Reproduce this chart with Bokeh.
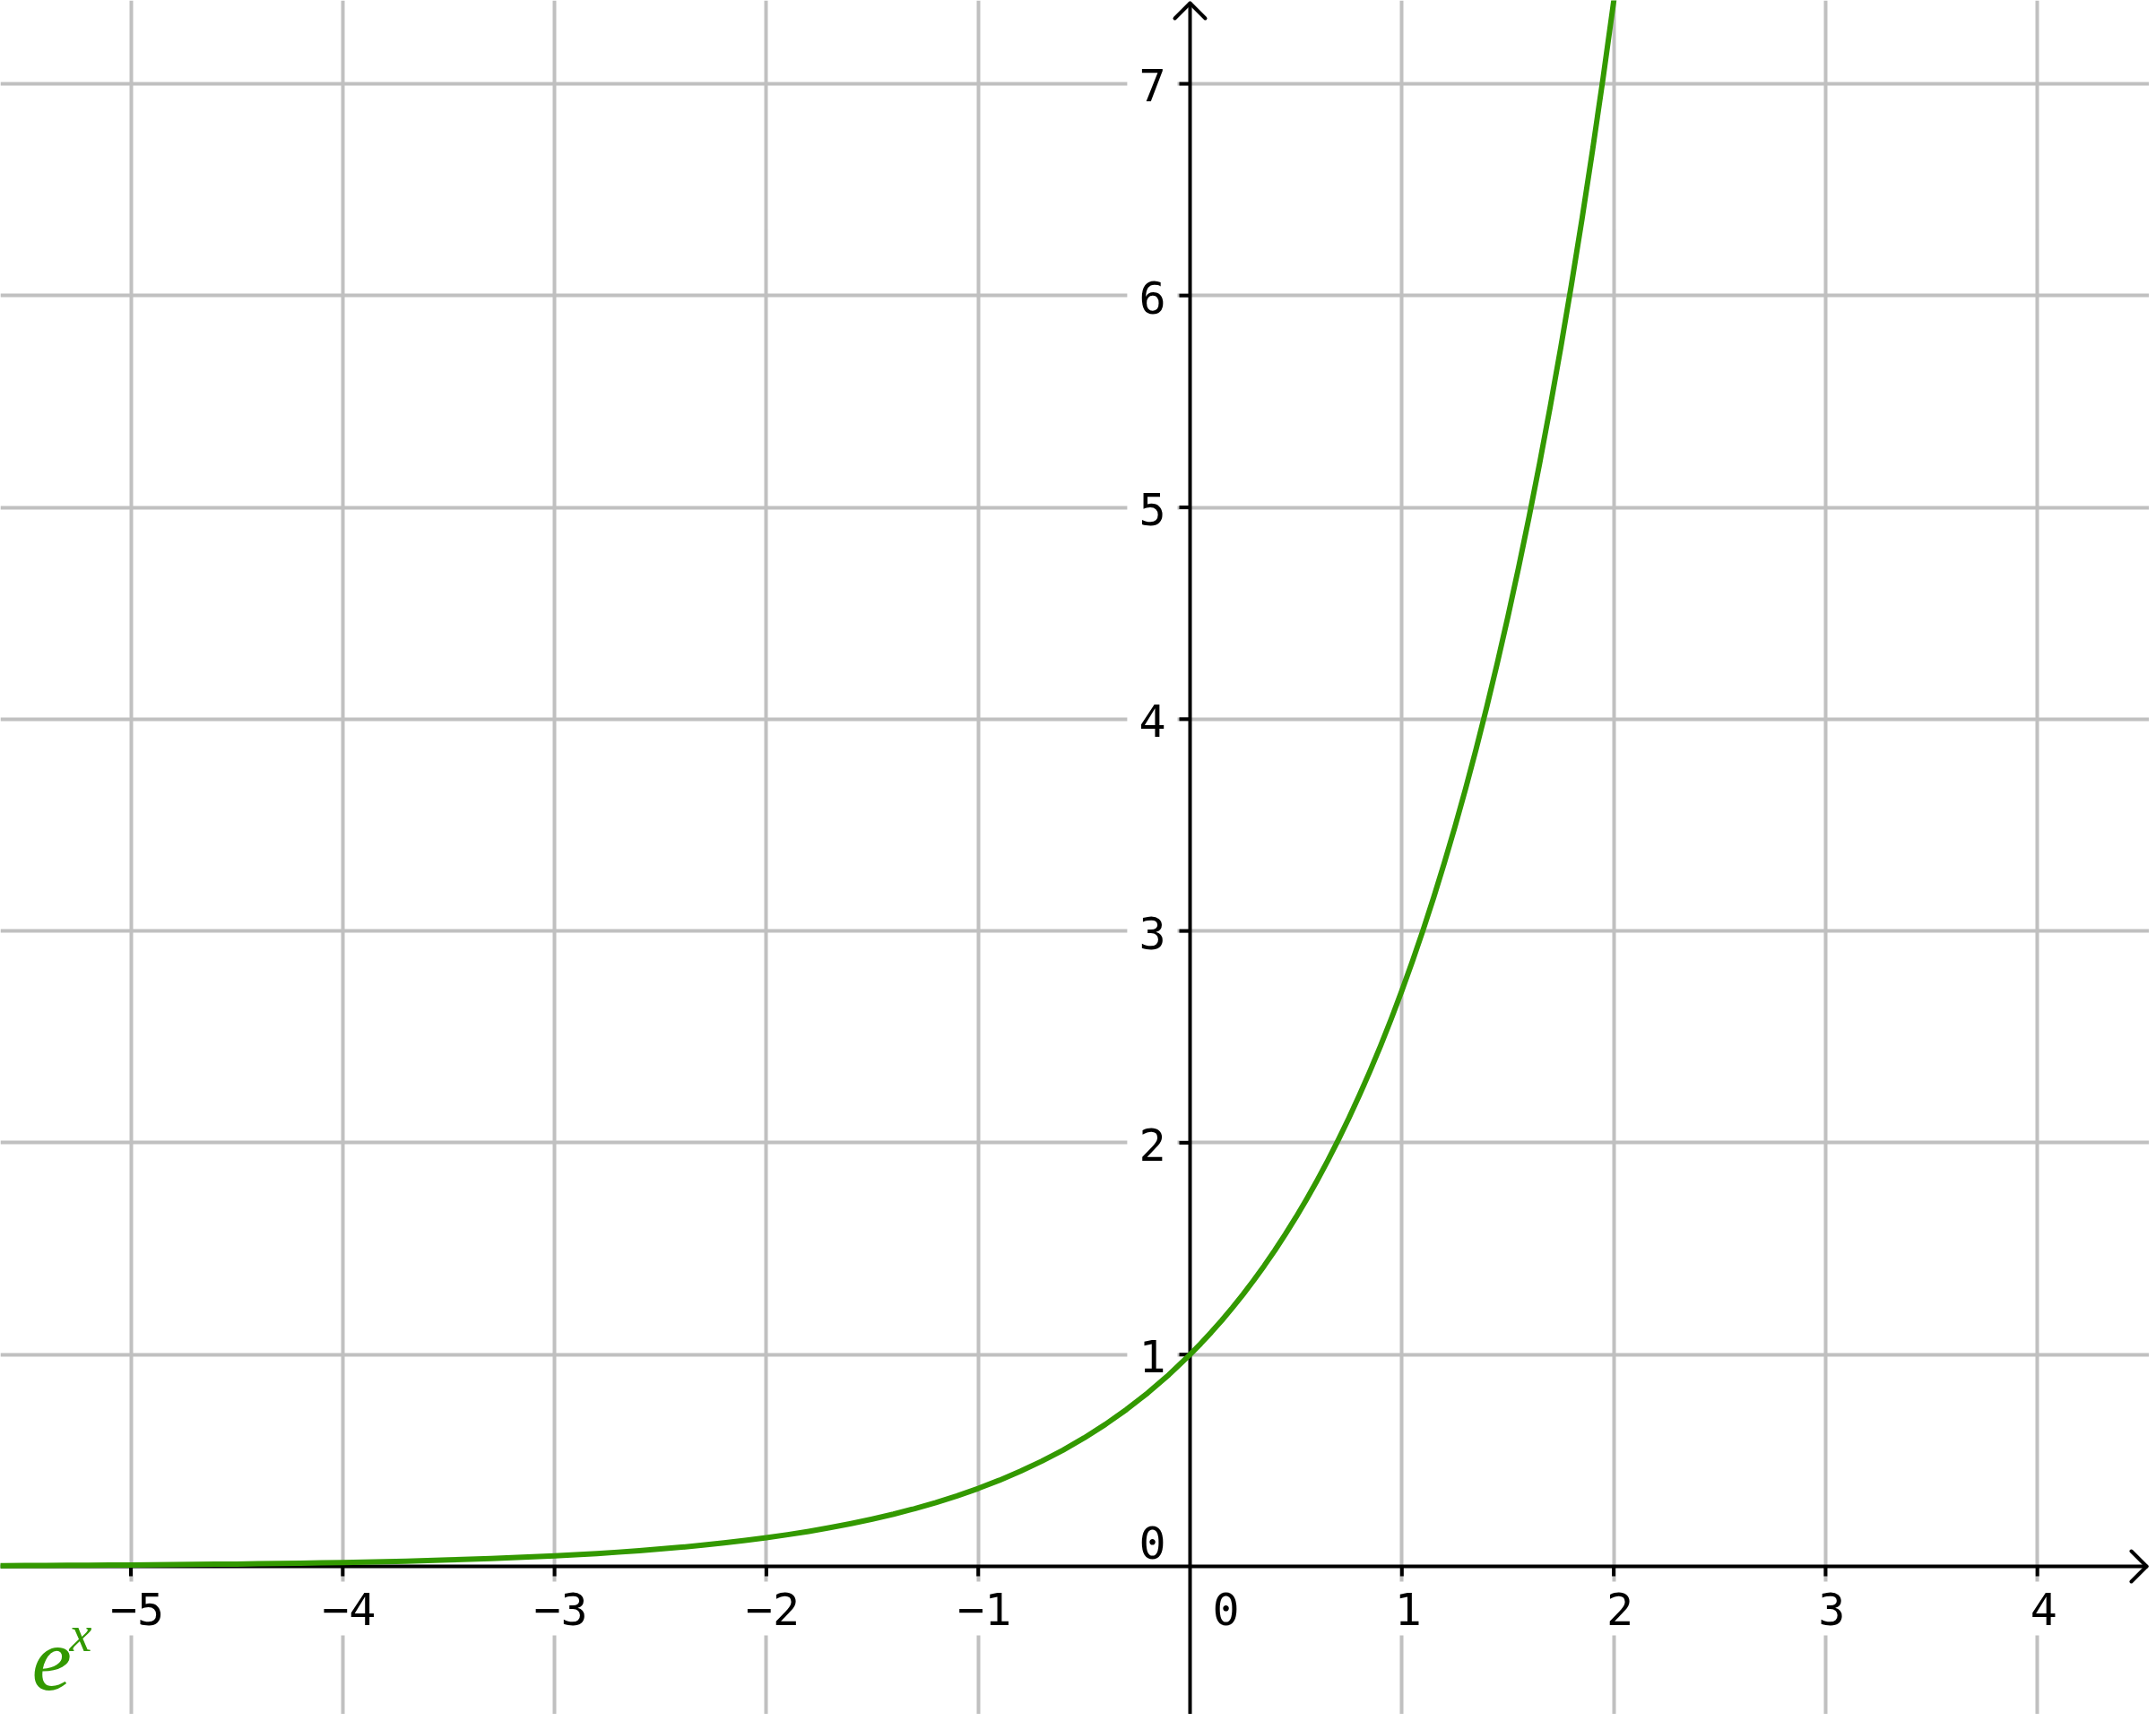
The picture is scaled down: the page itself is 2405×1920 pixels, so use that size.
from bokeh.plotting import figure
from bokeh.models import Range1d, Grid, FixedTicker
from bokeh.embed import file_html
from bokeh.resources import INLINE
from bokeh.core.properties import value

# ---------------- data ----------------
x_ticks = [-5, -4, -3, -2, -1, 1, 2, 3, 4]
x_tick_labels = ["−5", "−4", "−3", "−2", "−1", "1", "2", "3", "4"]
y_ticks = [1, 2, 3, 4, 5, 6, 7]
y_tick_labels = ["1", "2", "3", "4", "5", "6", "7"]
origin_label = "0"

curve_x = [-5.7, -5.6, -5.5, -5.4, -5.3, -5.2, -5.1, -5.0, -4.9, -4.8, -4.7, -4.6, -4.5,
           -4.4, -4.3, -4.2, -4.1, -4.0, -3.9, -3.8, -3.7, -3.6, -3.5, -3.4, -3.3,
           -3.2, -3.1, -3.0, -2.9, -2.8, -2.7, -2.6, -2.5, -2.4, -2.3, -2.2, -2.1,
           -2.0, -1.9, -1.8, -1.7, -1.6, -1.5, -1.4, -1.3, -1.2, -1.1, -1.0, -0.9,
           -0.8, -0.7, -0.6, -0.5, -0.4, -0.3, -0.2, -0.1, 0.0, 0.05, 0.1, 0.15,
           0.2, 0.25, 0.3, 0.35, 0.4, 0.45, 0.5, 0.55, 0.6, 0.65, 0.7, 0.75, 0.8,
           0.85, 0.9, 0.95, 1.0, 1.05, 1.1, 1.15, 1.2, 1.25, 1.3, 1.35, 1.4, 1.45,
           1.5, 1.55, 1.6, 1.65, 1.7, 1.75, 1.8, 1.85, 1.9, 1.95, 2.0, 2.02]
curve_y = [0.0033, 0.0037, 0.0041, 0.0045, 0.0050, 0.0055, 0.0061, 0.0067, 0.0074, 0.0082,
           0.0091, 0.0101, 0.0111, 0.0123, 0.0136, 0.0150, 0.0166, 0.0183, 0.0202,
           0.0224, 0.0247, 0.0273, 0.0302, 0.0334, 0.0369, 0.0408, 0.0450, 0.0498,
           0.0550, 0.0608, 0.0672, 0.0743, 0.0821, 0.0907, 0.1003, 0.1108, 0.1225,
           0.1353, 0.1496, 0.1653, 0.1827, 0.2019, 0.2231, 0.2466, 0.2725, 0.3012,
           0.3329, 0.3679, 0.4066, 0.4493, 0.4966, 0.5488, 0.6065, 0.6703, 0.7408,
           0.8187, 0.9048, 1.0, 1.0513, 1.1052, 1.1618, 1.2214, 1.2840, 1.3499,
           1.4191, 1.4918, 1.5683, 1.6487, 1.7333, 1.8221, 1.9155, 2.0138, 2.1170,
           2.2255, 2.3396, 2.4596, 2.5857, 2.7183, 2.8577, 3.0042, 3.1582, 3.3201,
           3.4903, 3.6693, 3.8574, 4.0552, 4.2631, 4.4817, 4.7115, 4.9530, 5.2070,
           5.4739, 5.7546, 6.0496, 6.3598, 6.6859, 7.0287, 7.3891, 7.5383]

func_base = "e"
func_exp = "x"

# ---------------- layout ----------------
W, H = 2397, 1912
OX, OY = 1327.0, 1747.0   # pixel of the origin in the picture
UNIT = 236.3              # pixels per unit (both axes)


def px2x(px):
    return (px - OX) / UNIT


def py2y(py):
    return (OY - py) / UNIT


x_start, x_end = px2x(0), px2x(W)
y_start, y_end = py2y(H), py2y(0)

GREEN = "#339900"
GRID = "#c0c0c0"
FONT = "DejaVu Sans Mono"

p = figure(width=W, height=H, x_range=Range1d(x_start, x_end),
           y_range=Range1d(y_start, y_end), x_axis_type=None, y_axis_type=None,
           toolbar_location=None, output_backend="svg", min_border=0,
           outline_line_color=None, background_fill_color="white")

p.add_layout(Grid(dimension=0, ticker=FixedTicker(ticks=x_ticks),
                  grid_line_color=GRID, grid_line_width=4))
p.add_layout(Grid(dimension=1, ticker=FixedTicker(ticks=y_ticks),
                  grid_line_color=GRID, grid_line_width=4))

# tick labels with white boxes (they interrupt the grid lines)
p.text(x=x_ticks, y=[0] * len(x_ticks), text=x_tick_labels,
       text_font=value(FONT), text_font_size="50px", text_color="black",
       text_align="center", text_baseline="top", x_offset=7, y_offset=17,
       background_fill_color="white", padding=12)
p.text(x=[0], y=[0], text=[origin_label], text_font=value(FONT),
       text_font_size="50px", text_color="black", text_align="center",
       text_baseline="top", x_offset=40, y_offset=17,
       background_fill_color="white", padding=12)
p.text(x=[0] * len(y_ticks), y=y_ticks, text=y_tick_labels,
       text_font=value(FONT), text_font_size="50px", text_color="black",
       text_align="right", text_baseline="middle", x_offset=-14, y_offset=2,
       background_fill_color="white", padding=13)
p.text(x=[0], y=[0], text=[origin_label], text_font=value(FONT),
       text_font_size="50px", text_color="black", text_align="right",
       text_baseline="middle", x_offset=-27, y_offset=-27)

# axes with open arrow heads
AW = 4
a = 17 / UNIT
x_tip = px2x(W - 3)
y_tip = py2y(3)
p.segment(x0=[x_start, 0], y0=[0, y_start], x1=[x_tip, 0], y1=[0, y_tip],
          line_color="black", line_width=AW)
p.segment(x0=[x_tip, x_tip, 0, 0], y0=[0, 0, y_tip, y_tip],
          x1=[x_tip - a, x_tip - a, -a, a], y1=[a, -a, y_tip - a, y_tip - a],
          line_color="black", line_width=AW, line_cap="round")

# tick marks
tx = 11 / UNIT
ty = 12 / UNIT
p.segment(x0=x_ticks, y0=[0] * len(x_ticks), x1=x_ticks, y1=[-tx] * len(x_ticks),
          line_color="black", line_width=AW)
p.segment(x0=[0] * len(y_ticks), y0=y_ticks, x1=[-ty] * len(y_ticks), y1=y_ticks,
          line_color="black", line_width=AW)

# the curve
p.line(curve_x, curve_y, line_color=GREEN, line_width=6, line_join="round")

# function label  e^x
p.text(x=[px2x(35)], y=[py2y(1852)], text=[func_base],
       text_font=value("Liberation Serif"), text_font_style="italic",
       text_font_size="100px", text_color=GREEN,
       text_baseline="middle", text_align="left")
p.text(x=[px2x(77)], y=[py2y(1822)], text=[func_exp],
       text_font=value("Liberation Serif"), text_font_style="italic",
       text_font_size="56px", text_color=GREEN,
       text_baseline="middle", text_align="left")

open("out.html", "w").write(file_html(p, INLINE))
